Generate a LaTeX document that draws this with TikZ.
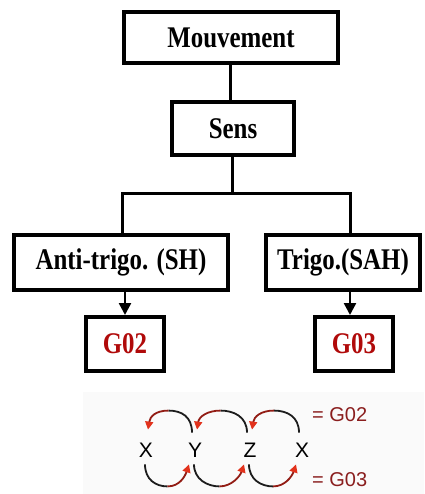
\documentclass[tikz,border=0pt]{standalone}
\usepackage{fontspec}
\setmainfont{Liberation Serif}
\newfontfamily\boxfont[FakeStretch=0.83]{Liberation Serif}
\newfontfamily\sansf{Liberation Sans}
\usetikzlibrary{arrows.meta,calc}
\definecolor{gred}{HTML}{B00A0A}
\definecolor{lred}{HTML}{8A1E1E}
\definecolor{tipred}{HTML}{E2321C}
\definecolor{arcred}{HTML}{921C14}
\definecolor{arcblack}{HTML}{1C1C1C}
\definecolor{panel}{HTML}{FAFAFA}
\begin{document}
\begin{tikzpicture}[x=1pt,y=-1pt,
  box/.style={draw,line width=4pt,inner sep=0pt,
    font=\boxfont\bfseries\fontsize{30}{30}\selectfont},
  conn/.style={line width=3pt},
  arr/.style={line width=2.5pt,-{Triangle[length=12pt,width=12pt]}},
  letter/.style={inner sep=0pt,font=\sansf\fontsize{21}{21}\selectfont},
  legend/.style={inner sep=0pt,anchor=west,text=lred,font=\sansf\fontsize{20}{20}\selectfont},
  arcb/.style={line width=1.8pt,draw=arcblack},
  arcr/.style={line width=1.8pt,draw=arcred,-{Triangle[length=8pt,width=8pt,color=tipred]}}]
\useasboundingbox (0,0) rectangle (424,494);
\fill[panel] (83,392) rectangle (424,494);

% tree of boxes
\node[box,minimum width=214pt,minimum height=51pt] (mouv) at (231,37.5) {Mouvement};
\node[box,minimum width=122pt,minimum height=53pt] (sens) at (233,128.5) {Sens};
\node[box,minimum width=214pt,minimum height=55pt] (anti) at (121,262.5) {Anti-trigo. (SH)};
\node[box,minimum width=154pt,minimum height=55pt] (trigo) at (343,262.5) {Trigo.(SAH)};
\node[box,text=gred,minimum width=78pt,minimum height=54pt] (g02) at (125,344) {G02};
\node[box,text=gred,minimum width=78pt,minimum height=54pt] (g03) at (354,344) {G03};

\coordinate (split) at (232,193);
\draw[conn] (mouv.south -| 230,0) -- (sens.north -| 230,0);
\draw[conn] (sens.south -| split) -- (split);
\draw[conn] ([xshift=1pt]anti.north) |- (split) -| ([xshift=7pt]trigo.north);
\draw[arr] (anti.south -| g02.north) -- (g02.north);
\draw[arr] ([xshift=-4pt]trigo.south -| g03.north) -- ([xshift=-4pt]g03.north);

% order of the axes
\node[letter] (X1) at (146,450) {X};
\node[letter] (Y1) at (195,450) {Y};
\node[letter] (Z1) at (250,450) {Z};
\node[letter] (X2) at (302,450) {X};
\node[legend] (l02) at (312,415) {= G02};
\node[legend] (l03) at (312,480) {= G03};

\foreach \l/\r in {X1/Y1,Y1/Z1,Z1/X2} {
  % upper loop, from the right letter back to the left one
  \coordinate (pk-\l) at ($(\l.north)!0.5!(\r.north)+(-2,-32)$);
  \draw[arcb] ($(\r.north)+(-3,-10)$) .. controls +(0,-16) and +(13,0) .. (pk-\l);
  \draw[arcr] (pk-\l) .. controls +(-13,0) and +(2,-13) .. ($(\l.north)+(2,-13)$);
  % lower loop, from the left letter on to the right one
  \coordinate (vl-\l) at ($(\l.south)!0.5!(\r.south)+(-3,29)$);
  \draw[arcb] ($(\l.south)+(-1,7)$) .. controls +(0,15) and +(-12,0) .. (vl-\l);
  \draw[arcr] (vl-\l) .. controls +(12,0) and +(-4,12) .. ($(\r.south)+(-6,7)$);
}
\end{tikzpicture}
\end{document}
